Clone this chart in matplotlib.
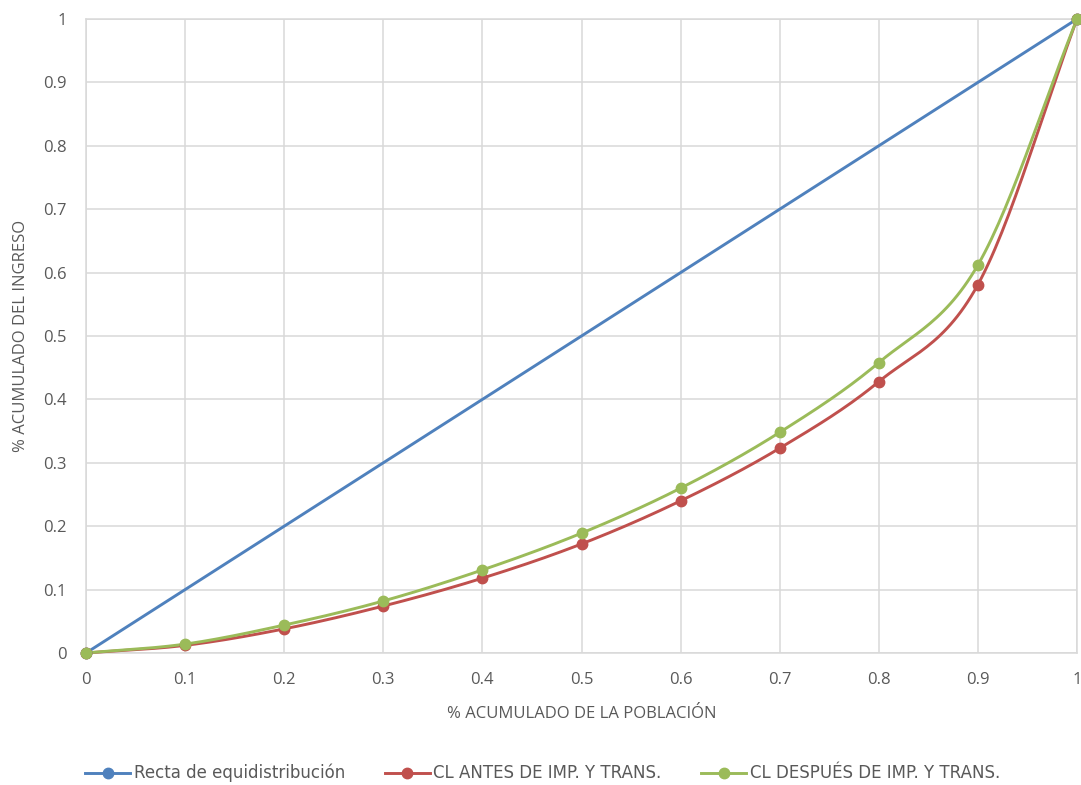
import numpy as np
import matplotlib
matplotlib.use("Agg")
import matplotlib.pyplot as plt
from matplotlib.lines import Line2D

# Cumulative population share and cumulative income share
poblacion = [0.0, 0.1, 0.2, 0.3, 0.4, 0.5, 0.6, 0.7, 0.8, 0.9, 1.0]
equidistribucion_x = [0.0, 1.0]
equidistribucion = [0.0, 1.0]
cl_antes = [0.0, 0.012, 0.038, 0.074, 0.118, 0.172, 0.240, 0.323, 0.428, 0.581, 1.0]
cl_despues = [0.0, 0.014, 0.044, 0.082, 0.131, 0.189, 0.260, 0.348, 0.458, 0.612, 1.0]

series_names = ["Recta de equidistribución",
                "CL ANTES DE IMP. Y TRANS.",
                "CL DESPUÉS DE IMP. Y TRANS."]
colors = ["#4F81BD", "#C0504D", "#9BBB59"]
ticks = [0, 0.1, 0.2, 0.3, 0.4, 0.5, 0.6, 0.7, 0.8, 0.9, 1]
tick_labels = ["0", "0.1", "0.2", "0.3", "0.4", "0.5", "0.6", "0.7", "0.8", "0.9", "1"]


def smooth(x, y, n=30):
    """Catmull-Rom style smoothing through the given points."""
    x = np.asarray(x, float)
    y = np.asarray(y, float)
    if len(x) < 3:
        return x, y
    px = np.concatenate([[2 * x[0] - x[1]], x, [2 * x[-1] - x[-2]]])
    py = np.concatenate([[2 * y[0] - y[1]], y, [2 * y[-1] - y[-2]]])
    xs, ys = [], []
    t = np.linspace(0, 1, n)
    for i in range(1, len(px) - 2):
        for P, out in ((px, xs), (py, ys)):
            p0, p1, p2, p3 = P[i - 1], P[i], P[i + 1], P[i + 2]
            m1 = (p2 - p0) / 2
            m2 = (p3 - p1) / 2
            h00 = 2 * t**3 - 3 * t**2 + 1
            h10 = t**3 - 2 * t**2 + t
            h01 = -2 * t**3 + 3 * t**2
            h11 = t**3 - t**2
            out.extend(h00 * p1 + h10 * m1 + h01 * p2 + h11 * m2)
    return np.array(xs), np.array(ys)


fig = plt.figure(figsize=(10.81, 7.85), dpi=100)
ax = fig.add_axes([0.0796, 0.1682, 0.9167, 0.8076])

series = [(equidistribucion_x, equidistribucion),
          (poblacion, cl_antes),
          (poblacion, cl_despues)]
for (xv, yv), col in zip(series, colors):
    sx, sy = smooth(xv, yv)
    ax.plot(sx, sy, color=col, lw=2.1, solid_capstyle="round", zorder=3, clip_on=False)
    ax.plot(xv, yv, "o", color=col, ms=7.5, zorder=4, clip_on=False)

ax.set_xlim(0, 1)
ax.set_ylim(0, 1)
ax.set_xticks(ticks)
ax.set_xticklabels(tick_labels)
ax.set_yticks(ticks)
ax.set_yticklabels(tick_labels)
ax.grid(True, color="#d9d9d9", lw=1.1, zorder=0)
ax.set_axisbelow(True)
for s in ax.spines.values():
    s.set_color("#d9d9d9")
    s.set_linewidth(1.1)
ax.tick_params(length=0, labelsize=12, colors="#595959")
ax.tick_params(axis="x", pad=14)
ax.tick_params(axis="y", pad=14)
for lab in ax.get_xticklabels() + ax.get_yticklabels():
    lab.set_fontfamily("Open Sans")

ax.set_xlabel("% ACUMULADO DE LA POBLACIÓN", fontsize=12, color="#595959",
              fontfamily="Open Sans", labelpad=13)
ax.set_ylabel("% ACUMULADO DEL INGRESO", fontsize=12, color="#595959",
              fontfamily="Open Sans", labelpad=10)

handles = [Line2D([0], [0], color=c, lw=2.1, marker="o", ms=7.5) for c in colors]
fig.legend(handles, series_names, loc="center", bbox_to_anchor=(0.502, 0.015),
           ncol=3, frameon=False, handlelength=2.7, handletextpad=0.2,
           columnspacing=2.4,
           prop={"family": ["Liberation Sans Narrow", "DejaVu Sans"], "size": 12},
           labelcolor="#595959")

fig.savefig("out.png", dpi=100, facecolor="white")
